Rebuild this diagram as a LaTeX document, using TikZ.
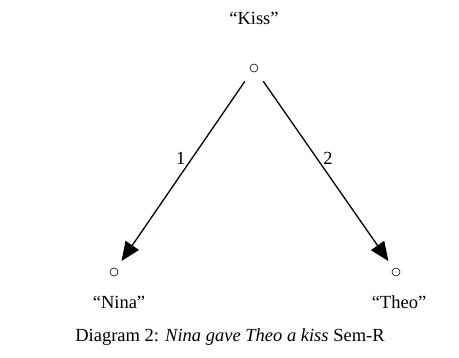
\documentclass[tikz,border=0pt]{standalone}
\usepackage{fontspec}
\setmainfont{Liberation Serif}
\usetikzlibrary{arrows.meta}
\begin{document}
\begin{tikzpicture}[x=1pt,y=-1pt,
  lbl/.style={font=\fontsize{18.5}{22}\selectfont, inner sep=0pt},
  pt/.style={circle, draw, line width=0.6pt, minimum size=8pt, inner sep=0pt},
  arc/.style={-{Triangle[length=19pt,width=16pt]}, line width=1.3pt, shorten >=9pt, shorten <=12pt}]
\useasboundingbox (0,0) rectangle (459,358);
\node[lbl] (tkiss) at (254,18) {“Kiss”};
\node[pt] (kiss) at (254,68) {};
\node[pt] (nina) at (114,272) {};
\node[pt] (theo) at (396,272) {};
\node[lbl] (tnina) at (119,302) {“Nina”};
\node[lbl] (ttheo) at (399,302) {“Theo”};
\draw[arc] (kiss) -- (nina) node[lbl, pos=0.44, left=6pt] (l1) {1};
\draw[arc] (kiss) -- (theo) node[lbl, pos=0.44, right=6pt] (l2) {2};
\node[lbl] (cap) at (230,337) {Diagram 2: \textit{Nina gave Theo a kiss} Sem-R};
\end{tikzpicture}
\end{document}
